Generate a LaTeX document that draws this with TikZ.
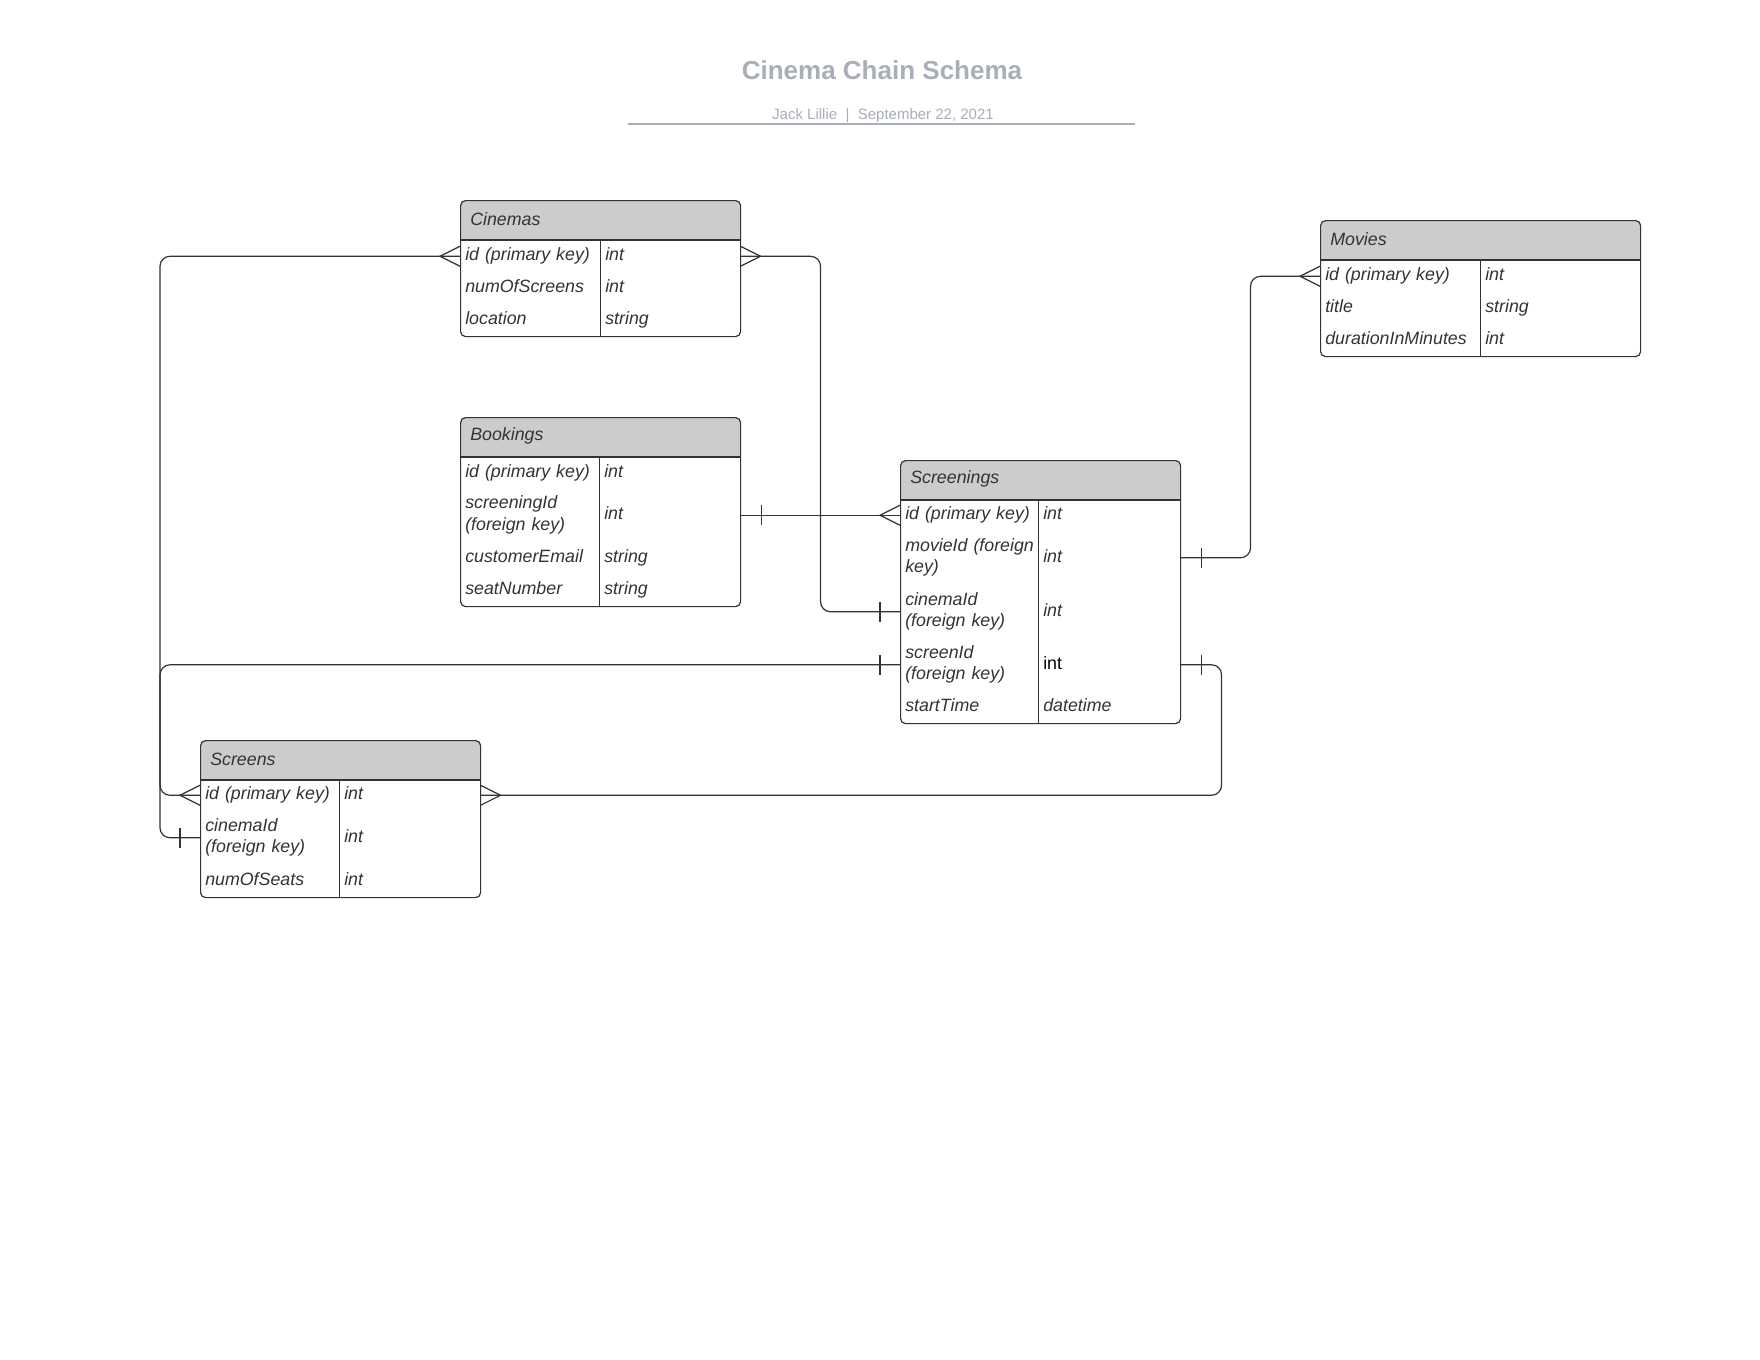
\documentclass[tikz,border=0pt]{standalone}
\usepackage{fontspec}
\setmainfont{Liberation Sans}
\definecolor{linec}{HTML}{333333}
\definecolor{textc}{HTML}{333333}
\definecolor{headc}{HTML}{CCCCCC}
\definecolor{titlec}{HTML}{A9AEB8}
\newcommand{\cellfont}{\fontsize{13.35pt}{16pt}\selectfont\itshape}

\begin{document}
\begin{tikzpicture}[x=0.75pt, y=-0.75pt]
  \fill [white] (0, 0) rectangle (1760, 1360);  % Hintergrund.
  \useasboundingbox (0, 0) rectangle (1760, 1360);
  \tikzstyle{frame}=[draw=linec, line width=0.9pt]
  \tikzstyle{table}=[frame, fill=white, rounded corners=3.75pt, anchor=north west, inner sep=0pt,
    path picture={\fill[headc, sharp corners] (path picture bounding box.north west) rectangle ([yshift=-30pt]path picture bounding box.north east);}]
  \tikzstyle{head}=[anchor=west, inner sep=0pt, font=\cellfont, text=textc]
  \tikzstyle{cell}=[anchor=north west, inner xsep=3.75pt, inner ysep=0pt, align=left, font=\cellfont, text=textc,
    execute at begin node=\strut, execute at end node=\strut]
  \tikzstyle{conn}=[frame, rounded corners=7.5pt]

  \node[anchor=base, text=titlec, font=\fontsize{19.5pt}{23pt}\selectfont\bfseries] (title) at (882, 79) {Cinema Chain Schema};
  \node[anchor=base, text=titlec, font=\fontsize{11.25pt}{13pt}\selectfont] (sub) at (883, 119) {Jack Lillie\ \ |\ \ September 22, 2021};
  \draw[titlec, line width=1.5pt] (628, 124) -- (1135, 124);

  % Cinemas
  \node[table, minimum width=210pt, minimum height=102pt] (cin) at (460, 200) {};
  \node[head] at ([shift={(10, 19)}]cin.north west) {Cinemas};
  \node[cell, text width=97.5pt, minimum height=24pt] (cin-id)   at (460, 240) {id (primary key)};
  \node[cell, text width=97.5pt, minimum height=24pt] (cin-idt)  at (600, 240) {int};
  \node[cell, text width=97.5pt, minimum height=24pt] (cin-num)  at (460, 272) {numOfScreens};
  \node[cell, text width=97.5pt, minimum height=24pt] (cin-numt) at (600, 272) {int};
  \node[cell, text width=97.5pt, minimum height=24pt] (cin-loc)  at (460, 304) {location};
  \node[cell, text width=97.5pt, minimum height=24pt] (cin-loct) at (600, 304) {string};
  \draw[frame] (cin-id.north west) -- (cin-idt.north east);
  \draw[frame] (cin-id.north east) -- (cin-loc.south east);

  % Movies
  \node[table, minimum width=240pt, minimum height=102pt] (mov) at (1320, 220) {};
  \node[head] at ([shift={(10, 19)}]mov.north west) {Movies};
  \node[cell, text width=112.5pt, minimum height=24pt] (mov-id)   at (1320, 260) {id (primary key)};
  \node[cell, text width=112.5pt, minimum height=24pt] (mov-idt)  at (1480, 260) {int};
  \node[cell, text width=112.5pt, minimum height=24pt] (mov-tit)  at (1320, 292) {title};
  \node[cell, text width=112.5pt, minimum height=24pt] (mov-titt) at (1480, 292) {string};
  \node[cell, text width=112.5pt, minimum height=24pt] (mov-dur)  at (1320, 324) {durationInMinutes};
  \node[cell, text width=112.5pt, minimum height=24pt] (mov-durt) at (1480, 324) {int};
  \draw[frame] (mov-id.north west) -- (mov-idt.north east);
  \draw[frame] (mov-id.north east) -- (mov-dur.south east);

  % Bookings
  \node[table, minimum width=210pt, minimum height=141.75pt] (bk) at (460, 417) {};
  \node[head] at ([shift={(10, 19)}]bk.north west) {Bookings};
  \node[cell, text width=96.75pt, minimum height=23.25pt] (bk-id)    at (460, 457) {id (primary key)};
  \node[cell, text width=98.25pt, minimum height=23.25pt] (bk-idt)   at (599, 457) {int};
  \node[cell, text width=96.75pt, minimum height=40.5pt]  (bk-sid)   at (460, 488) {screeningId\\(foreign key)};
  \node[cell, text width=98.25pt, minimum height=40.5pt]  (bk-sidt)  at (599, 488) {int};
  \node[cell, text width=96.75pt, minimum height=23.25pt] (bk-mail)  at (460, 542) {customerEmail};
  \node[cell, text width=98.25pt, minimum height=23.25pt] (bk-mailt) at (599, 542) {string};
  \node[cell, text width=96.75pt, minimum height=24.75pt] (bk-seat)  at (460, 573) {seatNumber};
  \node[cell, text width=98.25pt, minimum height=24.75pt] (bk-seatt) at (599, 573) {string};
  \draw[frame] (bk-id.north west) -- (bk-idt.north east);
  \draw[frame] (bk-id.north east) -- (bk-seat.south east);

  % Screenings
  \node[table, minimum width=210pt, minimum height=197.25pt] (scr) at (900, 460) {};
  \node[head] at ([shift={(10, 19)}]scr.north west) {Screenings};
  \node[cell, text width=96pt, minimum height=22.5pt]  (scr-id)    at (900, 500)  {id (primary key)};
  \node[cell, text width=99pt, minimum height=22.5pt]  (scr-idt)   at (1038, 500) {int};
  \node[cell, text width=96pt, minimum height=41.25pt] (scr-mid)   at (900, 530)  {\mbox{movieId (foreign}\\key)};
  \node[cell, text width=99pt, minimum height=41.25pt] (scr-midt)  at (1038, 530) {int};
  \node[cell, text width=96pt, minimum height=39.75pt] (scr-cid)   at (900, 585)  {cinemaId\\(foreign key)};
  \node[cell, text width=99pt, minimum height=39.75pt] (scr-cidt)  at (1038, 585) {int};
  \node[cell, text width=96pt, minimum height=39.75pt] (scr-sid)   at (900, 638)  {screenId\\(foreign key)};
  \node[cell, text width=99pt, minimum height=39.75pt] (scr-sidt)  at (1038, 638) {\upshape\color{black}int};
  \node[cell, text width=96pt, minimum height=24pt]    (scr-time)  at (900, 691)  {startTime};
  \node[cell, text width=99pt, minimum height=24pt]    (scr-timet) at (1038, 691) {datetime};
  \draw[frame] (scr-id.north west) -- (scr-idt.north east);
  \draw[frame] (scr-id.north east) -- (scr-time.south east);

  % Screens
  \node[table, minimum width=210pt, minimum height=117.75pt] (scn) at (200, 740) {};
  \node[head] at ([shift={(10, 19)}]scn.north west) {Screens};
  \node[cell, text width=96.75pt, minimum height=22.5pt]  (scn-id)    at (200, 780) {id (primary key)};
  \node[cell, text width=98.25pt, minimum height=22.5pt]  (scn-idt)   at (339, 780) {int};
  \node[cell, text width=96.75pt, minimum height=41.25pt] (scn-cid)   at (200, 810) {cinemaId\\(foreign key)};
  \node[cell, text width=98.25pt, minimum height=41.25pt] (scn-cidt)  at (339, 810) {int};
  \node[cell, text width=96.75pt, minimum height=24pt]    (scn-seat)  at (200, 865) {numOfSeats};
  \node[cell, text width=98.25pt, minimum height=24pt]    (scn-seatt) at (339, 865) {int};
  \draw[frame] (scn-id.north west) -- (scn-idt.north east);
  \draw[frame] (scn-id.north east) -- (scn-seat.south east);

  % Beziehungen.
  \draw[conn] (cin-id.west) -- ++(-300, 0) |- (scn-cid.west);
  \draw[conn] (scr-sid.west) -- ++(-740, 0) |- (scn-id.west);
  \draw[conn] (cin-idt.east) -- ++(80, 0) |- (scr-cid.west);
  \draw[conn] (bk-sidt.east) -- (scr-id.west);
  \draw[conn] (scr-midt.east) -- ++(70, 0) |- (mov-id.west);
  \draw[conn] (scr-sidt.east) -- ++(41, 0) |- (scn-idt.east);

  % Kraehenfuesse und Striche.
  \draw[frame] (cin-id.west) ++(0, -10) -- ++(-20, 10) -- ++(20, 10);
  \draw[frame] (cin-idt.east) ++(0, -10) -- ++(20, 10) -- ++(-20, 10);
  \draw[frame] (scr-id.west) ++(0, -10) -- ++(-20, 10) -- ++(20, 10);
  \draw[frame] (mov-id.west) ++(0, -10) -- ++(-20, 10) -- ++(20, 10);
  \draw[frame] (scn-id.west) ++(0, -10) -- ++(-20, 10) -- ++(20, 10);
  \draw[frame] (scn-idt.east) ++(0, -10) -- ++(20, 10) -- ++(-20, 10);
  \draw[frame] (scn-cid.west) ++(-20, -10) -- ++(0, 20);
  \draw[frame] (scr-sid.west) ++(-20, -10) -- ++(0, 20);
  \draw[frame] (scr-cid.west) ++(-20, -10) -- ++(0, 20);
  \draw[frame] (bk-sidt.east) ++(21, -10) -- ++(0, 20);
  \draw[frame] (scr-midt.east) ++(21, -10) -- ++(0, 20);
  \draw[frame] (scr-sidt.east) ++(21, -10) -- ++(0, 20);
\end{tikzpicture}
\end{document}
